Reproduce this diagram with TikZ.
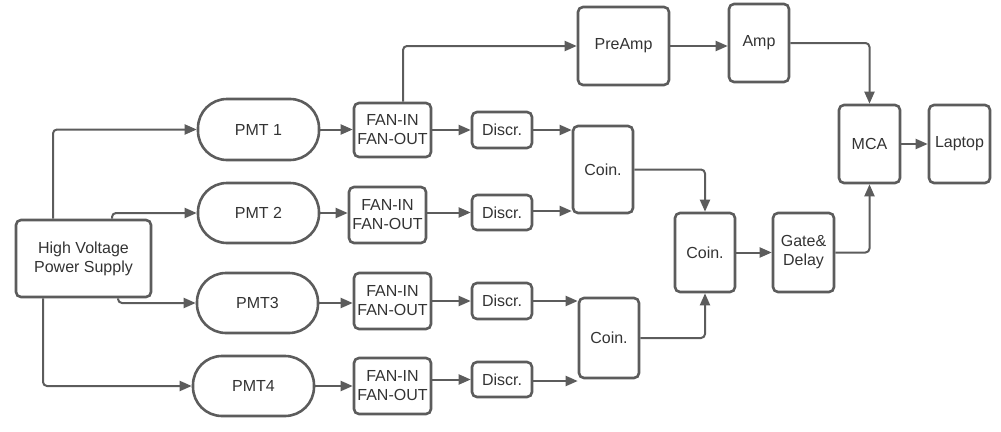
\documentclass[tikz,border=0pt]{standalone}
\usepackage{fontspec}
\setmainfont{Liberation Sans}
\usetikzlibrary{arrows.meta}
\definecolor{stroke}{HTML}{5C5C5C}
\definecolor{txt}{HTML}{333333}
\begin{document}
\begin{tikzpicture}[x=1pt,y=-1pt,
  blk/.style={draw=stroke,line width=2.6pt,rounded corners=5pt,inner sep=0pt,align=center,text=txt,
    font=\fontsize{16}{19}\selectfont},
  pmt/.style={blk,rounded corners=29pt},
  conn/.style={draw=stroke,line width=2pt,rounded corners=4pt,-{Triangle[length=12pt,width=10pt]}}]
\useasboundingbox (0,0) rectangle (1001,431);
\node[blk,minimum width=135pt,minimum height=77pt] (HV) at (83.5,258.5) {High Voltage\\Power Supply};
\node[pmt,minimum width=121pt,minimum height=61pt] (P1) at (258.5,129.5) {PMT 1};
\node[pmt,minimum width=121pt,minimum height=60pt] (P2) at (258.5,213) {PMT 2};
\node[pmt,minimum width=121pt,minimum height=60pt] (P3) at (257.5,303) {PMT3};
\node[pmt,minimum width=121pt,minimum height=60pt] (P4) at (253.5,386) {PMT4};
\node[blk,minimum width=77pt,minimum height=54pt] (F1) at (392.5,130) {FAN-IN\\FAN-OUT};
\node[blk,minimum width=77pt,minimum height=56pt] (F2) at (387.5,215) {FAN-IN\\FAN-OUT};
\node[blk,minimum width=77pt,minimum height=56pt] (F3) at (392.5,301) {FAN-IN\\FAN-OUT};
\node[blk,minimum width=77pt,minimum height=56pt] (F4) at (392.5,386) {FAN-IN\\FAN-OUT};
\node[blk,minimum width=60pt,minimum height=36pt] (D1) at (502,130) {Discr.};
\node[blk,minimum width=60pt,minimum height=35pt] (D2) at (502,212.5) {Discr.};
\node[blk,minimum width=60pt,minimum height=36pt] (D3) at (502,301) {Discr.};
\node[blk,minimum width=60pt,minimum height=35pt] (D4) at (502,379.5) {Discr.};
\node[blk,minimum width=60pt,minimum height=87pt] (C1) at (603,169.5) {Coin.};
\node[blk,minimum width=60pt,minimum height=80pt] (C2) at (609,338) {Coin.};
\node[blk,minimum width=60pt,minimum height=79pt] (C3) at (705,252.5) {Coin.};
\node[blk,minimum width=61pt,minimum height=79pt] (G) at (803.5,252.5) {Gate\&\\Delay};
\node[blk,minimum width=91pt,minimum height=78pt] (PA) at (623.5,46) {PreAmp};
\node[blk,minimum width=60pt,minimum height=78pt] (A) at (759,43) {Amp};
\node[blk,minimum width=61pt,minimum height=78pt] (M) at (869.5,144) {MCA};
\node[blk,minimum width=61pt,minimum height=78pt] (L) at (959.5,144) {Laptop};
% HV supply
\draw[conn] ([xshift=-30.5pt]HV.north) |- (P1.west);
\draw[conn] ([xshift=28.5pt]HV.north) |- (P2.west);
\draw[conn] ([xshift=34.5pt]HV.south) |- (P3.west);
\draw[conn] ([xshift=-40.5pt]HV.south) |- (P4.west);
% PMT -> fan
\draw[conn] (P1.east) -- (P1.east -| F1.west);
\draw[conn] (P2.east) -- (P2.east -| F2.west);
\draw[conn] (P3.east) -- (P3.east -| F3.west);
\draw[conn] (P4.east) -- (P4.east -| F4.west);
% fan -> discr
\draw[conn] (F1.east |- D1.west) -- (D1.west);
\draw[conn] (F2.east |- D2.west) -- (D2.west);
\draw[conn] (F3.east |- D3.west) -- (D3.west);
\draw[conn] (F4.east |- D4.west) -- (D4.west);
% discr -> coin
\draw[conn] (D1.east) -- (D1.east -| C1.west);
\draw[conn] ([yshift=1.5pt]D2.east) -- ([yshift=1.5pt]D2.east -| C1.west);
\draw[conn] (D3.east) -- (D3.east -| C2.west);
\draw[conn] ([yshift=-1.5pt]D4.east) -- ([yshift=-1.5pt]D4.east -| C2.west);
% coin -> coin
\draw[conn] (C1.east) -| (C3.north);
\draw[conn] (C2.east) -| (C3.south);
\draw[conn] (C3.east) -- (G.west);
\draw[conn] (G.east) -| (M.south);
% amp chain
\draw[conn] ([xshift=10.5pt]F1.north) |- (PA.west);
\draw[conn] (PA.east) -- (PA.east -| A.west);
\draw[conn] (A.east) -| (M.north);
\draw[conn] (M.east) -- (L.west);
\end{tikzpicture}
\end{document}
